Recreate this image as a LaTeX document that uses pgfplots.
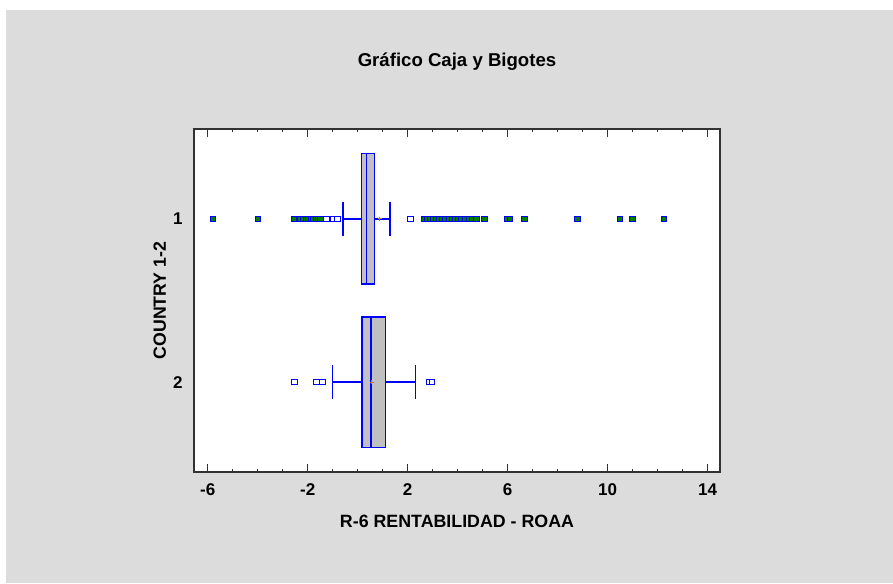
\documentclass[border=0pt]{standalone}
\usepackage{fontspec}
\setmainfont{Liberation Sans}
\usepackage{pgfplots}
\pgfplotsset{compat=1.18}
\usepgfplotslibrary{statistics}
\definecolor{bg}{RGB}{220,220,220}
\definecolor{boxgray}{RGB}{192,192,192}
\definecolor{farg}{RGB}{0,128,0}
\definecolor{meanc}{RGB}{205,110,60}
\definecolor{frame}{RGB}{50,50,50}
\begin{document}
\begin{tikzpicture}[x=1pt,y=1pt]
\fill[white] (0pt,0pt) rectangle (893pt,583pt);
\fill[bg] (6pt,0pt) rectangle (893pt,573pt);
\node[font=\bfseries\fontsize{18.6}{20}\selectfont] at (457pt,521pt) {Gráfico Caja y Bigotes};
\begin{axis}[
  at={(194pt,111pt)}, anchor=south west, scale only axis,
  width=526pt, height=343pt,
  xmin=-6.55, xmax=14.5, ymin=0.45, ymax=2.55, y dir=reverse,
  axis background/.style={fill=white},
  boxplot/draw direction=x,
  boxplot/every box/.style={draw=blue, fill=boxgray, line width=1.6pt},
  boxplot/every median/.style={draw=blue, line width=1.6pt},
  boxplot/every whisker/.style={draw=blue, line width=1.6pt},
  xtick={-6,-2,2,6,10,14}, minor x tick num=3,
  ytick={1,2}, yticklabels={1,2},
  xtick pos=both, ytick pos=left,
  tick align=inside,
  major tick length=8pt, minor tick length=3.5pt,
  every tick/.style={frame, line width=1pt},
  y tick style={draw=none},
  axis line style={frame, line width=1.3pt},
  /pgf/number format/assume math mode=true,
  xticklabel style={font=\bfseries\fontsize{17}{17}\selectfont, yshift=-8pt},
  yticklabel style={font=\bfseries\fontsize{17}{17}\selectfont, xshift=-8pt},
  xlabel={R-6 RENTABILIDAD - ROAA},
  xlabel style={at={(axis description cs:0.5,-0.143)}, anchor=center, font=\bfseries\fontsize{17.8}{18}\selectfont},
  ylabel={COUNTRY 1-2},
  ylabel style={at={(axis description cs:-0.065,0.5)}, anchor=center, font=\bfseries\fontsize{17.7}{18}\selectfont},
  clip=false,
]
% group 1
\addplot[boxplot prepared={draw position=1, lower whisker=-0.59, lower quartile=0.16,
  median=0.35, upper quartile=0.67, upper whisker=1.29, box extend=0.8, whisker extend=0.21},
  draw=blue, line width=1.6pt, mark=none] coordinates {};
% group 2
\addplot[boxplot prepared={draw position=2, lower whisker=-1.00, lower quartile=0.17,
  median=0.53, upper quartile=1.12, upper whisker=2.31, box extend=0.8, whisker extend=0.21},
  draw=blue, line width=1.6pt, mark=none] coordinates {};
% means
\addplot[only marks, mark=+, mark size=2pt, mark options={draw=meanc, line width=0.9pt}]
  coordinates {(0.88,1) (0.56,2)};
% far outliers (group 1)
\addplot[only marks, mark=square*, mark size=2.7pt, mark options={draw=blue, fill=farg, line width=1pt}]
  coordinates {
  (-5.79,1) (-3.99,1) (-2.55,1) (-2.32,1) (-2.19,1) (-2.08,1) (-1.96,1) (-1.86,1)
  (-1.76,1) (-1.67,1) (-1.59,1) (-1.48,1)
  (2.65,1) (2.78,1) (2.90,1) (3.02,1) (3.15,1) (3.28,1) (3.40,1) (3.52,1) (3.65,1)
  (3.78,1) (3.90,1) (4.02,1) (4.15,1) (4.30,1) (4.45,1) (4.60,1) (4.75,1) (5.08,1)
  (6.00,1) (6.10,1) (6.67,1) (8.79,1) (10.49,1) (11.00,1) (12.27,1)
  };
% near outliers
\addplot[only marks, mark=square*, mark size=2.7pt, mark options={draw=blue, fill=white, line width=1pt}]
  coordinates {
  (-1.25,1) (-0.99,1) (-0.81,1) (2.12,1)
  (-2.53,2) (-1.65,2) (-1.41,2) (2.85,2) (2.97,2)
  };
\end{axis}
\end{tikzpicture}
\end{document}
